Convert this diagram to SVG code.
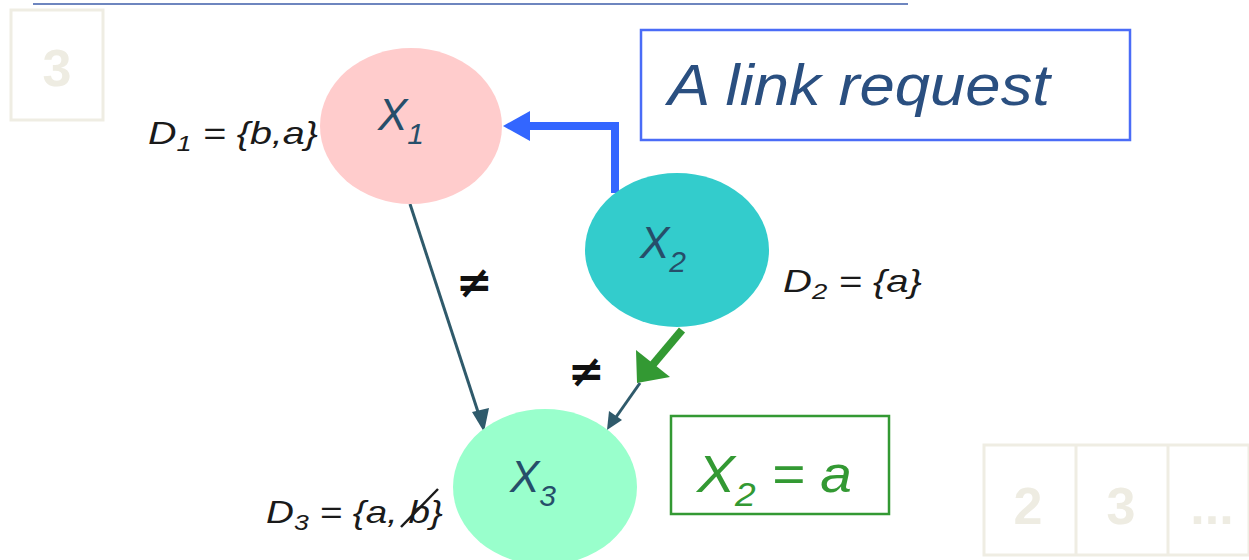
<svg xmlns="http://www.w3.org/2000/svg" width="1249" height="560" viewBox="0 0 1249 560">
<defs>
<style>
.it{font-family:"Liberation Sans","DejaVu Sans",sans-serif;font-style:italic}
.lbl{font-size:32px;fill:#1a1a1a}
.node{font-size:44px;fill:#264e6a}
.neq{font-family:"DejaVu Sans",sans-serif;font-size:44px;font-weight:bold;fill:#111}
.faint{fill:none;stroke:#efede3;stroke-width:3}
.ft{font-family:"Liberation Sans",sans-serif;font-weight:bold;font-size:52px;fill:#eeece2;text-anchor:middle}
</style>
</defs>
<line x1="33" y1="4" x2="908" y2="4" stroke="#4a68b0" stroke-width="2" opacity="0.8"/>
<g id="faint-3">
<rect x="11" y="10" width="92" height="110" class="faint"/>
<text x="57" y="86" class="ft">3</text>
</g>
<g id="faint-row">
<rect x="984" y="445" width="265" height="110" class="faint"/>
<line x1="1076" y1="445" x2="1076" y2="555" stroke="#efede3" stroke-width="3"/>
<line x1="1168" y1="445" x2="1168" y2="555" stroke="#efede3" stroke-width="3"/>
<text x="1028" y="524" class="ft">2</text>
<text x="1121" y="524" class="ft">3</text>
<text x="1212" y="524" class="ft">...</text>
</g>
<g id="connectors">
<polyline points="615,193 615,126 528,126" fill="none" stroke="#3366ff" stroke-width="8"/>
<path d="M503,126 L530,111 L530,141 z" fill="#3366ff"/>
<line x1="410" y1="204" x2="480" y2="418" stroke="#2f5a6b" stroke-width="3"/>
<path d="M484,432 L472,412 L489,408 z" fill="#2f5a6b"/>
<line x1="682" y1="330" x2="650" y2="368" stroke="#339933" stroke-width="8"/>
<path d="M637,383 L636,350 L670,377 z" fill="#339933"/>
<line x1="640" y1="383" x2="614" y2="420" stroke="#2f5a6b" stroke-width="3"/>
<path d="M607,430 L609,411 L622,420 z" fill="#2f5a6b"/>
<text x="456" y="297" class="neq">≠</text>
<text x="568" y="386" class="neq">≠</text>
</g>
<g id="x1">
<ellipse cx="411" cy="126" rx="91" ry="78" fill="#ffcccc"/>
<text x="378" y="130" class="it node">X<tspan dy="14" font-size="30">1</tspan></text>
<text x="148" y="144" class="it lbl" textLength="170" lengthAdjust="spacingAndGlyphs">D<tspan dy="7" font-size="22">1</tspan><tspan dy="-7"> = {b,a}</tspan></text>
</g>
<g id="x2">
<ellipse cx="677" cy="250" rx="92" ry="77" fill="#33cccc"/>
<text x="640" y="258" class="it node">X<tspan dy="14" font-size="30">2</tspan></text>
<text x="783" y="292" class="it lbl" textLength="139" lengthAdjust="spacingAndGlyphs">D<tspan dy="7" font-size="22">2</tspan><tspan dy="-7"> = {a}</tspan></text>
</g>
<g id="x3">
<ellipse cx="545" cy="487" rx="92" ry="78" fill="#99ffcc"/>
<text x="510" y="492" class="it node">X<tspan dy="14" font-size="30">3</tspan></text>
<text x="266" y="523" class="it lbl" textLength="177" lengthAdjust="spacingAndGlyphs">D<tspan dy="7" font-size="22">3</tspan><tspan dy="-7"> = {a, b}</tspan></text>
<line x1="401" y1="527" x2="438" y2="489" stroke="#1a1a1a" stroke-width="2.5"/>
</g>
<g id="link-request">
<rect x="641" y="30" width="489" height="110" fill="#fff" stroke="#4a6cf7" stroke-width="2.5"/>
<text x="668" y="105" class="it" font-size="58" fill="#2a4f80" textLength="382" lengthAdjust="spacingAndGlyphs">A link request</text>
</g>
<g id="assignment">
<rect x="671" y="416" width="218" height="98" fill="#fff" stroke="#339933" stroke-width="2.5"/>
<text x="697" y="492" class="it" font-size="52" fill="#339933" textLength="155" lengthAdjust="spacingAndGlyphs">X<tspan dy="14" font-size="34">2</tspan><tspan dy="-14"> = a</tspan></text>
</g>
</svg>
